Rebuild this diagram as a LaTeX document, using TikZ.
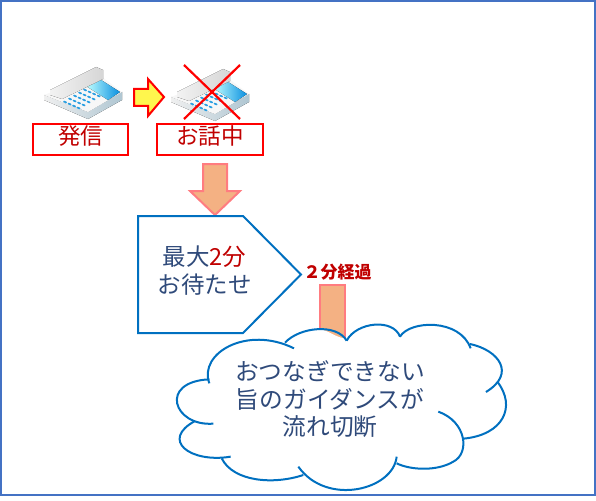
\documentclass[tikz,border=0pt]{standalone}
\usepackage{xcolor}
\usepackage{fontspec}
\setmainfont{Noto Sans CJK JP}
\usepackage{tikz}
\definecolor{frameblue}{HTML}{4472C4}
\definecolor{lineblue}{HTML}{0070C0}
\definecolor{navytext}{HTML}{2F4A7A}
\definecolor{darkred}{HTML}{C00000}
\definecolor{orangefill}{HTML}{F4B183}
\definecolor{pinkline}{HTML}{FF7C80}
\definecolor{phoneside}{HTML}{AFC6D2}
\definecolor{phonekey}{HTML}{2A9FE2}
\definecolor{phonescreen}{HTML}{0A8FE0}
\begin{document}
\begin{tikzpicture}[x=1pt, y=-1pt,
  label/.style={draw=red, line width=2pt, text=darkred, font=\fontsize{22.5}{26}\selectfont, inner sep=0pt, text height=18pt, text depth=9pt, anchor=center},
  bluetext/.style={text=navytext, align=center, font=\fontsize{23.5}{28}\selectfont},
  downarrow/.style={draw=pinkline, fill=orangefill, line width=2pt},
  outline/.style={draw=lineblue, line width=2pt},
  crossline/.style={draw=red, line width=2.2pt},
  phoneicon/.pic={
    \fill[left color=black!6, right color=phoneside] (4,33) -- (48,50) -- (82,30) -- (82,38) -- (48,57) -- (4,38) -- cycle;
    \fill[black!3] (4,33) -- (48,50) -- (82,30) -- (58,12) -- cycle;
    \fill[left color=cyan!25, right color=phonescreen] (46,24) -- (58,16) -- (80,30) -- (68,38) -- cycle;
    \fill[left color=black!5, right color=black!16] (10,28) -- (56,5) -- (63,8) -- (63,17) -- (22,37) -- (10,33) -- cycle;
    \foreach \i in {0,...,4} \foreach \j in {0,...,3}
      \draw[phonekey, line width=1.7pt, line cap=round] (24+5*\i+4.5*\j,39.5-3*\i+2*\j) -- ++(2.2,1);
  }]
\useasboundingbox (0,0) rectangle (596,500);
\draw[frameblue, line width=2pt] (1,1) rectangle (595,495);
% phones
\pic at (40,62) {phoneicon};
\pic at (167,64) {phoneicon};
\coordinate (crossa) at (184,65);
\coordinate (crossb) at (240,119);
\coordinate (crossc) at (240,65);
\coordinate (crossd) at (184,119);
\draw[crossline] (crossa) -- (crossb);
\draw[crossline] (crossc) -- (crossd);
\draw[draw=red, fill=yellow!70, line width=2pt] (134,89) -- (148,89) -- (148,79) -- (164,97) -- (148,116) -- (148,106) -- (134,106) -- cycle;
\node[label, minimum width=95pt, minimum height=31pt] (send) at (80.5,139.5) {発信};
\node[label, minimum width=106pt, minimum height=31pt] (talking) at (210,139.5) {お話中};
\draw[downarrow] (203,164) -- (227,164) -- (227,191) -- (240,191) -- (215,215) -- (190,191) -- (203,191) -- cycle;
% pentagon
\draw[outline, fill=white] (138,216) -- (243,216) -- (301,274.5) -- (243,333) -- (138,333) -- cycle;
\node[bluetext] (wait) at (204.5,271) {最大\textcolor{darkred}{2分}\\お待たせ};
\node[text=darkred, font=\fontsize{17}{20}\selectfont\bfseries] (elapsed) at (337.5,272.5) {２分経過};
\draw[downarrow] (320,285) rectangle (345,345);
% cloud
\begin{scope}[shift={(170,320)}, x=.3333pt, y=-.3333pt]
\fill[white] plot[smooth cycle, tension=.6] coordinates {(110,150) (250,55) (345,68) (440,27) (530,55) (620,14) (690,50) (800,14) (900,75) (985,150) (1008,250) (880,355) (745,445) (680,430) (560,505) (400,465) (300,485) (155,415) (50,370) (75,305) (26,245) (115,180)};
\draw[outline] (118,190) .. controls (85,100) and (230,15) .. (372,85);
\draw[outline] (345,68) .. controls (390,20) and (500,10) .. (530,62);
\draw[outline] (530,62) .. controls (560,5) and (670,-5) .. (690,50);
\draw[outline] (690,50) .. controls (720,0) and (870,-5) .. (902,85);
\draw[outline] (900,72) .. controls (985,90) and (1040,160) .. (948,216);
\draw[outline] (982,185) .. controls (1040,260) and (1000,345) .. (880,356);
\draw[outline] (805,275) .. controls (890,305) and (900,400) .. (850,425) .. controls (800,455) and (720,450) .. (680,430);
\draw[outline] (680,410) .. controls (670,510) and (470,560) .. (385,440);
\draw[outline] (400,465) .. controls (310,495) and (190,485) .. (155,415);
\draw[outline] (182,410) .. controls (60,430) and (-30,360) .. (75,303);
\draw[outline] (130,311) .. controls (10,320) and (-35,185) .. (118,178);
\end{scope}
\node[bluetext, font=\fontsize{23.7}{27.5}\selectfont] (guide) at (330,399.5) {おつなぎできない\\旨のガイダンスが\\流れ切断};
\end{tikzpicture}
\end{document}
